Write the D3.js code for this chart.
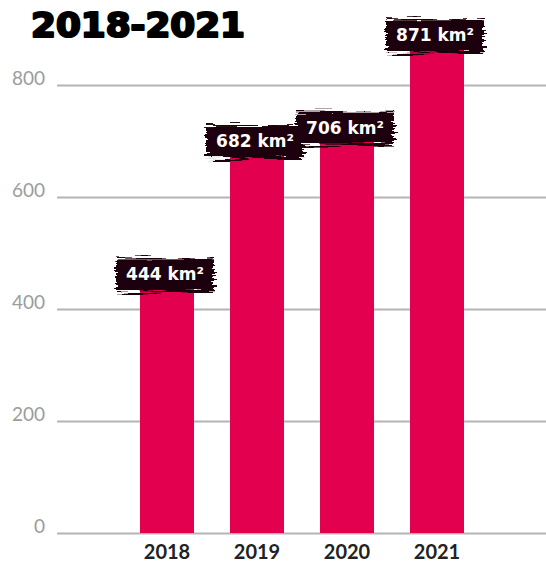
<!DOCTYPE html>
<html>
<head>
<meta charset="utf-8">
<script src="https://cdn.jsdelivr.net/npm/d3@7"></script>
<style>
  html, body { margin: 0; padding: 0; background: #fff; }
  svg { display: block; }
</style>
</head>
<body>
<svg id="chart" width="546" height="562"></svg>
<script>
// Surface area per year (km²)
const years = ["2018", "2019", "2020", "2021"];
const areas = [444, 682, 706, 871];
const yTicks = [0, 200, 400, 600, 800];
const title = "2018-2021";
const unit = " km²";

const W = 546, H = 562;
const svg = d3.select("#chart");

// Rough brush-stroke edge for the value labels
const defs = svg.append("defs");
const f = defs.append("filter").attr("id", "brush")
  .attr("x", "-20%").attr("y", "-40%").attr("width", "140%").attr("height", "180%");
f.append("feTurbulence").attr("type", "fractalNoise")
  .attr("baseFrequency", "0.02 0.45").attr("numOctaves", 3).attr("seed", 7).attr("result", "noise");
f.append("feDisplacementMap").attr("in", "SourceGraphic").attr("in2", "noise")
  .attr("scale", 14).attr("xChannelSelector", "R").attr("yChannelSelector", "G");

const y = d3.scaleLinear().domain([0, 800]).range([533, 85]);
const x = d3.scaleBand().domain(years).range([122, 482]).paddingInner(0.4).paddingOuter(0.2);

// Gridlines + tick labels
const yAxis = d3.axisLeft(y).tickValues(yTicks).tickSize(-(W - 57)).tickPadding(12);
const gy = svg.append("g").attr("transform", "translate(57,0)").call(yAxis);
gy.select(".domain").remove();
gy.selectAll(".tick line").attr("stroke", "#b4b4b4").attr("stroke-width", 2);
gy.selectAll(".tick text")
  .attr("fill", "#9c9c9c").attr("font-family", "Lato, sans-serif")
  .attr("font-size", 19).attr("dy", "-0.05em")
  .attr("dominant-baseline", "auto").attr("y", 0);

// Bars
svg.append("g").selectAll("rect").data(areas).join("rect")
  .attr("x", (d, i) => x(years[i]))
  .attr("width", x.bandwidth())
  .attr("y", d => y(d))
  .attr("height", d => y(0) - y(d))
  .attr("fill", "#e3004f");

// Year labels (baseline near the bottom edge)
const xAxis = d3.axisBottom(x).tickSize(0).tickPadding(0);
const gx = svg.append("g").attr("transform", "translate(0,559)").call(xAxis);
gx.select(".domain").remove();
gx.selectAll(".tick text")
  .attr("y", 0).attr("dy", 0)
  .attr("fill", "#222").attr("font-family", "Lato, sans-serif")
  .attr("font-weight", 700).attr("font-size", 20);

// Value labels on dark brush strokes
const lbl = svg.append("g").selectAll("g").data(areas).join("g")
  .attr("transform", (d, i) => `translate(${x(years[i]) + x.bandwidth() / 2 - 2},${y(d) - 10})`);
lbl.append("rect")
  .attr("x", -49).attr("y", -16).attr("width", 98).attr("height", 33)
  .attr("fill", "#1a0307").attr("filter", "url(#brush)");
lbl.append("text")
  .attr("text-anchor", "middle").attr("dy", "0.36em")
  .attr("fill", "#fff").attr("font-family", "'DejaVu Sans', sans-serif")
  .attr("font-weight", 700).attr("font-size", 17)
  .text(d => d + unit);

// Title
svg.append("text")
  .attr("x", 31).attr("y", 37)
  .attr("fill", "#000").attr("stroke", "#000").attr("stroke-width", 2.2)
  .attr("stroke-linejoin", "round")
  .attr("font-family", "'DejaVu Sans', sans-serif")
  .attr("font-weight", 700).attr("font-size", 33)
  .attr("textLength", 214).attr("lengthAdjust", "spacingAndGlyphs")
  .text(title);
</script>
</body>
</html>
